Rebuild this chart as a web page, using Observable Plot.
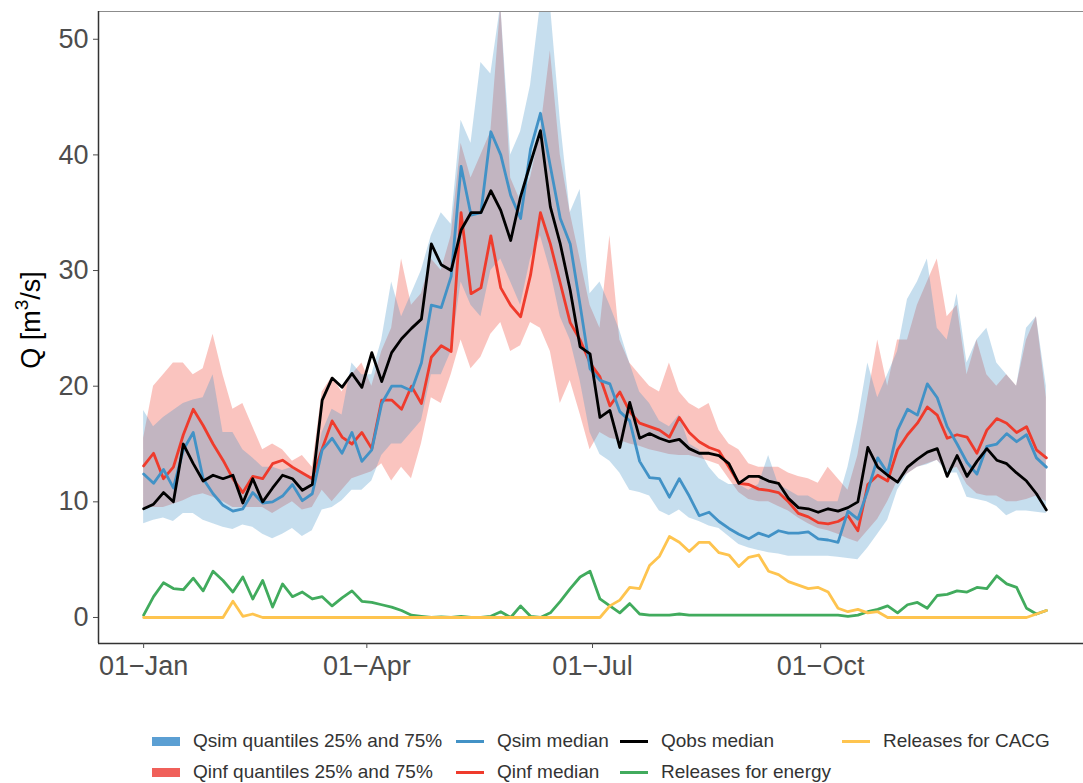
<!DOCTYPE html>
<html>
<head>
<meta charset="utf-8">
<script src="https://cdn.jsdelivr.net/npm/d3@7"></script>
<script src="https://cdn.jsdelivr.net/npm/@observablehq/plot@0.6"></script>
<style>
  html, body { margin: 0; padding: 0; background: #fff; overflow: hidden; width: 1083px; height: 783px; }
  #chart { position: absolute; left: 0; top: 0; width: 1092px; }
  #chart svg { max-width: none !important; }
  .leg { position: absolute; display: flex; align-items: center; height: 24px;
         font-family: "Liberation Sans", Arial, sans-serif; font-size: 19px; color: #333; white-space: nowrap; }
  .leg .key { display: inline-block; width: 28px; margin-right: 13px; }
</style>
</head>
<body>
<div id="chart"></div>
<div id="legend"></div>
<script>
// Day of year (0 = 01-Jan) at which values were read
const dayOfYear = [0,4,8,12,16,20,24,28,32,36,40,44,48,52,56,60,64,68,72,76,80,84,88,92,96,100,104,108,112,116,120,124,128,132,136,140,144,148,152,156,160,164,168,172,176,180,184,188,192,196,200,204,208,212,216,220,224,228,232,236,240,244,248,252,256,260,264,268,272,276,280,284,288,292,296,300,304,308,312,316,320,324,328,332,336,340,344,348,352,356,360,364];

const qobsMedian = [
  9.4, 9.8, 10.8, 10.0, 15.0, 13.3, 11.8, 12.3, 12.0, 12.3,
  9.9, 12.0, 10.0, 11.2, 12.3, 12.0, 11.0, 11.5, 18.8, 20.7,
  19.9, 21.1, 19.9, 22.9, 20.4, 22.9, 24.1, 25.0, 25.8, 32.3,
  30.5, 30.0, 33.5, 35.0, 35.0, 36.9, 35.2, 32.6, 36.4, 39.3,
  42.1, 35.5, 32.3, 28.3, 23.4, 22.8, 17.3, 17.9, 14.7, 18.6,
  15.5, 15.9, 15.5, 15.2, 15.4, 14.6, 14.2, 14.2, 14.0, 13.3,
  11.6, 12.2, 12.2, 11.8, 11.6, 10.3, 9.5, 9.4, 9.1, 9.4,
  9.2, 9.5, 10.0, 14.7, 13.0, 12.3, 11.7, 13.0, 13.7, 14.3,
  14.6, 12.2, 14.0, 12.2, 13.5, 14.6, 13.6, 13.3, 12.5, 11.8,
  10.7, 9.3];

const qsimMedian = [
  12.4, 11.6, 12.8, 11.2, 14.5, 16.0, 12.0, 10.7, 9.7, 9.2,
  9.4, 10.8, 9.9, 10.0, 10.5, 11.5, 10.1, 10.7, 14.5, 15.5,
  14.2, 16.0, 13.5, 14.5, 18.5, 20.0, 20.0, 19.6, 22.0, 27.0,
  26.8, 29.5, 39.0, 34.8, 35.0, 42.0, 40.0, 36.5, 34.5, 40.5,
  43.6, 39.0, 34.5, 32.3, 27.0, 21.5, 20.5, 20.2, 17.8, 17.0,
  13.5, 12.1, 12.0, 10.4, 12.0, 10.5, 8.8, 9.1, 8.3, 7.7,
  7.2, 6.8, 7.3, 7.0, 7.5, 7.3, 7.3, 7.4, 6.8, 6.7,
  6.5, 9.2, 8.5, 11.0, 13.8, 12.5, 16.2, 18.0, 17.5, 20.2,
  19.0, 16.5, 15.0, 13.4, 12.4, 14.8, 15.0, 15.9, 15.2, 15.8,
  13.8, 13.0];

const qsimQ25 = [
  8.1, 8.4, 8.6, 8.3, 9.0, 9.0, 8.4, 8.1, 7.8, 7.6,
  8.0, 7.8, 7.2, 6.8, 7.2, 7.7, 7.0, 7.5, 9.3, 9.5,
  10.1, 11.0, 11.0, 11.8, 14.0, 15.0, 15.0, 16.0, 17.0, 21.0,
  21.0, 23.0, 29.0, 27.0, 26.0, 30.0, 31.0, 29.0, 27.0, 31.0,
  33.0, 30.0, 26.0, 24.0, 20.5, 16.0, 14.1, 13.5, 12.5, 11.0,
  10.8, 10.5, 9.2, 8.8, 9.3, 8.6, 8.3, 7.9, 7.7, 7.0,
  6.3, 6.0, 5.8, 5.6, 5.5, 5.3, 5.3, 5.3, 5.3, 5.3,
  5.2, 5.1, 5.0, 6.0, 7.2, 8.4, 11.0, 12.4, 13.0, 13.2,
  13.6, 12.5, 12.5, 10.4, 10.2, 10.0, 9.6, 8.8, 9.2, 9.2,
  9.1, 9.0];

const qsimQ75 = [
  17.9, 16.5, 17.3, 17.9, 18.5, 18.8, 19.0, 21.0, 16.0, 16.0,
  14.5, 13.8, 13.0, 13.0, 12.7, 13.0, 12.5, 12.0, 16.0, 18.0,
  17.5, 22.0, 21.0, 21.0, 24.0, 29.0, 26.0, 28.0, 30.0, 33.0,
  35.0, 34.0, 43.0, 41.0, 48.0, 47.0, 53.0, 40.0, 42.0, 46.0,
  53.0, 53.0, 43.0, 35.0, 37.0, 28.0, 29.0, 27.0, 24.8, 22.0,
  19.5, 18.5, 17.0, 16.5, 17.5, 15.0, 14.5, 13.0, 12.0, 11.5,
  11.5, 11.0, 11.5, 14.0, 11.5, 11.0, 10.5, 10.5, 10.0, 10.0,
  10.0, 13.0, 17.0, 22.0, 19.0, 21.0, 23.0, 27.5, 29.0, 31.0,
  25.0, 24.0, 28.0, 22.0, 24.0, 25.0, 22.0, 21.0, 20.0, 25.0,
  26.0, 20.0];

const qinfMedian = [
  13.1, 14.2, 12.0, 13.0, 15.8, 18.0, 16.6, 15.0, 13.6, 12.0,
  10.8, 12.2, 12.0, 13.3, 13.6, 13.0, 12.5, 12.0, 14.6, 17.0,
  15.6, 15.0, 16.0, 14.6, 18.8, 18.8, 18.0, 20.0, 18.5, 22.5,
  23.5, 23.0, 35.0, 28.0, 28.5, 33.0, 28.5, 27.0, 26.0, 29.6,
  35.0, 32.3, 28.9, 25.5, 24.0, 22.0, 20.8, 18.3, 19.5, 17.8,
  16.8, 16.5, 16.2, 15.6, 17.3, 16.0, 15.2, 14.7, 14.4, 13.0,
  11.6, 11.5, 11.1, 11.0, 10.8, 10.0, 9.0, 8.7, 8.2, 8.1,
  8.3, 8.8, 7.5, 11.5, 12.3, 11.8, 14.5, 15.8, 16.8, 18.2,
  17.5, 15.5, 15.8, 15.6, 14.2, 16.2, 17.2, 16.8, 16.0, 16.5,
  14.5, 13.8];

const qinfQ25 = [
  9.5, 9.5, 9.5, 9.8, 10.1, 10.5, 10.7, 10.4, 10.0, 9.5,
  9.5, 9.5, 9.5, 9.0, 9.5, 10.0, 9.3, 9.5, 11.0, 10.0,
  11.0, 12.0, 12.3, 12.6, 13.3, 11.8, 13.0, 12.0, 15.0, 19.0,
  18.5, 21.0, 24.0, 21.5, 22.5, 24.5, 25.5, 23.0, 23.5, 25.5,
  25.0, 23.0, 18.5, 20.5, 17.6, 14.5, 16.0, 15.5, 15.3, 15.0,
  14.8, 14.5, 14.3, 14.1, 14.0, 14.0, 13.8, 13.5, 13.2, 12.0,
  10.8, 10.2, 10.0, 10.0, 9.6, 9.2, 8.6, 8.1, 7.7, 7.5,
  7.2, 6.8, 6.5, 7.5, 8.5, 10.0, 11.8, 12.4, 13.0, 13.3,
  13.6, 12.7, 13.0, 11.5, 10.7, 10.5, 10.5, 10.0, 10.0, 10.2,
  10.5, 10.0];

const qinfQ75 = [
  15.5, 20.0, 21.0, 22.0, 22.0, 21.0, 21.5, 24.5, 21.0, 18.0,
  18.5, 16.5, 14.5, 15.0, 14.5, 13.5, 14.0, 13.0, 19.5, 20.8,
  19.5, 21.0, 22.0, 20.0, 23.0, 25.0, 31.0, 27.0, 28.0, 31.0,
  30.0, 33.0, 41.0, 38.0, 40.0, 42.0, 53.0, 38.0, 36.0, 38.0,
  42.0, 49.0, 40.0, 35.0, 31.0, 27.0, 25.0, 33.0, 24.0, 22.0,
  21.0, 20.0, 19.5, 22.0, 19.5, 18.5, 18.0, 18.5, 16.2, 15.0,
  14.5, 13.3, 13.0, 13.0, 13.0, 12.5, 12.2, 12.0, 11.6, 13.0,
  12.0, 11.0, 14.0, 19.0, 24.0, 20.0, 24.0, 24.0, 27.0, 29.0,
  31.0, 26.0, 27.0, 21.0, 24.0, 21.0, 20.0, 21.0, 20.0, 24.0,
  26.0, 19.0];

const releasesEnergy = [
  0.2, 1.8, 3.0, 2.5, 2.4, 3.4, 2.3, 4.0, 3.2, 2.2,
  3.5, 1.6, 3.2, 0.9, 2.9, 1.8, 2.2, 1.6, 1.8, 1.0,
  1.7, 2.3, 1.4, 1.3, 1.1, 0.9, 0.6, 0.2, 0.1, 0.0,
  0.05, 0.0, 0.1, 0.0, 0.0, 0.1, 0.5, 0.0, 1.0, 0.1,
  0.0, 0.4, 1.4, 2.5, 3.5, 4.0, 1.6, 1.0, 0.4, 1.2,
  0.3, 0.2, 0.2, 0.2, 0.3, 0.2, 0.2, 0.2, 0.2, 0.2,
  0.2, 0.2, 0.2, 0.2, 0.2, 0.2, 0.2, 0.2, 0.2, 0.2,
  0.2, 0.1, 0.2, 0.5, 0.7, 1.0, 0.4, 1.1, 1.3, 0.8,
  1.9, 2.0, 2.3, 2.2, 2.6, 2.5, 3.6, 2.9, 2.6, 0.8,
  0.3, 0.6];

const releasesCACG = [
  0, 0, 0, 0, 0, 0, 0, 0, 0, 1.4,
  0.1, 0.3, 0, 0, 0, 0, 0, 0, 0, 0,
  0, 0, 0, 0, 0, 0, 0, 0, 0, 0,
  0, 0, 0, 0, 0, 0, 0, 0, 0, 0,
  0, 0, 0, 0, 0, 0, 0, 1.0, 1.5, 2.6,
  2.5, 4.5, 5.3, 7.0, 6.5, 5.7, 6.5, 6.5, 5.6, 5.4,
  4.4, 5.2, 5.4, 4.0, 3.7, 3.1, 2.8, 2.5, 2.6, 2.2,
  0.8, 0.5, 0.7, 0.4, 0.5, 0, 0, 0, 0, 0,
  0, 0, 0, 0, 0, 0, 0, 0, 0, 0,
  0.3, 0.6];

const yTicks = [0, 10, 20, 30, 40, 50];
const xTickDays = [0, 90, 181, 273]; // 01-Jan, 01-Apr, 01-Jul, 01-Oct

const legendLabels = ["Qsim quantiles 25% and 75%", "Qsim median", "Qobs median", "Releases for CACG",
                      "Qinf quantiles 25% and 75%", "Qinf median", "Releases for energy"];
const legendColors = ["#5b9fd3", "#4292c6", "#000000", "#fec44f", "#f0605a", "#ef3b2c", "#41ab5d"];
const legendKinds  = ["fill", "line", "line", "line", "fill", "line", "line"];

// ---------------------------------------------------------------
const BASE = Date.UTC(2001, 0, 1), DAY = 864e5;
const toDate = d => new Date(BASE + d * DAY);
const rows = dayOfYear.map((d, i) => ({
  date: toDate(d),
  obs: qobsMedian[i],
  simMed: qsimMedian[i], simLo: qsimQ25[i], simHi: qsimQ75[i],
  infMed: qinfMedian[i], infLo: qinfQ25[i], infHi: qinfQ75[i],
  energy: releasesEnergy[i], cacg: releasesCACG[i]
}));

const xMin = toDate(-18.2), xMax = toDate(382.2);
const yMin = -2.25, yMax = 52.4;
const fmtD = d3.utcFormat("%d"), fmtM = d3.utcFormat("%b");
const lineOpts = {x: "date", strokeWidth: 2.8, strokeLinejoin: "round", strokeLinecap: "round"};

const plot = Plot.plot({
  width: 1092, height: 700,
  marginLeft: 98, marginRight: 1, marginTop: 11, marginBottom: 57,
  style: {fontFamily: "'Liberation Sans', Arial, sans-serif", background: "transparent",
          overflow: "visible", maxWidth: "none"},
  x: {type: "utc", domain: [xMin, xMax]},
  y: {domain: [yMin, yMax]},
  marks: [
    Plot.areaY(rows, {x: "date", y1: "infLo", y2: "infHi", fill: "#ef3b2c", fillOpacity: 0.3, clip: true}),
    Plot.areaY(rows, {x: "date", y1: "simLo", y2: "simHi", fill: "#4292c6", fillOpacity: 0.3, clip: true}),
    Plot.lineY(rows, {...lineOpts, y: "infMed", stroke: "#ef3b2c"}),
    Plot.lineY(rows, {...lineOpts, y: "simMed", stroke: "#4292c6"}),
    Plot.lineY(rows, {...lineOpts, y: "energy", stroke: "#41ab5d"}),
    Plot.lineY(rows, {...lineOpts, y: "cacg", stroke: "#fec44f"}),
    Plot.lineY(rows, {...lineOpts, y: "obs", stroke: "#000000"}),
    Plot.ruleY([yMax], {stroke: "#8c8c8c", strokeWidth: 1.2}),
    Plot.ruleY([yMin], {stroke: "#333333", strokeWidth: 1.5}),
    Plot.ruleX([xMin], {stroke: "#333333", strokeWidth: 1.5}),
    Plot.axisX({ticks: xTickDays.map(toDate), tickFormat: d => fmtD(d) + "\u2212" + fmtM(d),
                tickSize: 5, tickPadding: 7, fontSize: 27, color: "#4d4d4d", label: null}),
    Plot.axisY({ticks: yTicks, tickSize: 5, tickPadding: 5, fontSize: 27, color: "#4d4d4d", label: null})
  ]
});
document.getElementById("chart").appendChild(plot);

// y axis title
const svg = d3.select(plot);
const title = svg.append("text")
  .attr("transform", "translate(33,320) rotate(-90)")
  .attr("text-anchor", "middle")
  .attr("dominant-baseline", "middle")
  .attr("font-size", 27)
  .attr("fill", "#000")
  .attr("font-family", "'Liberation Sans', Arial, sans-serif");
title.append("tspan").text("Q [m");
title.append("tspan").attr("baseline-shift", "super").attr("font-size", 19).text("3");
title.append("tspan").text("/s]");

// legend
const colX = [152, 456, 620, 842, 152, 456, 620];
const rowY = [741, 741, 741, 741, 772, 772, 772];
const legend = document.getElementById("legend");
legendLabels.forEach((lab, i) => {
  const item = document.createElement("div");
  item.className = "leg";
  item.style.left = colX[i] + "px";
  item.style.top = (rowY[i] - 12) + "px";
  const key = document.createElement("span");
  key.className = "key";
  key.style.background = legendColors[i];
  key.style.height = legendKinds[i] === "fill" ? "9px" : "3px";
  const txt = document.createElement("span");
  txt.textContent = lab;
  item.appendChild(key);
  item.appendChild(txt);
  legend.appendChild(item);
});
</script>
</body>
</html>
